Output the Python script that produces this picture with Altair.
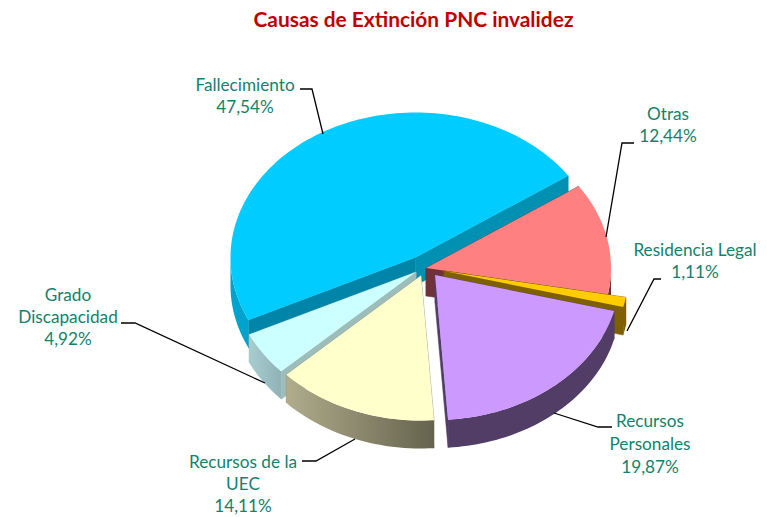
import math
import altair as alt

# --- chart values
categories = ["Fallecimiento", "Otras", "Residencia Legal", "Recursos Personales", "Recursos de la UEC", "Grado Discapacidad"]
shares = [47.54, 12.44, 1.11, 19.87, 14.11, 4.92]
share_labels = ["47,54%", "12,44%", "1,11%", "19,87%", "14,11%", "4,92%"]

# --- styling of each slice
top_colors = ["#00CCFF", "#FF8080", "#FFCC00", "#CC99FF", "#FFFFCC", "#CCFFFF"]
side_colors = ["#00A3CC", "#6E3238", "#7F6000", "#523D66", "#8A8870", "#9FC4C6"]
cut_colors = ["#0085A8", "#6E3238", "#7F6000", "#523D66", "#8A8870", "#9CBDB9"]
apexes = [(415.5, 257.5), (426, 268), (444, 271), (435, 275), (421, 275.5), (416, 272)]

RX, RY, DEPTH = 185, 145, 28
START = 205.5  # parametric angle where the first slice begins, running clockwise
PAD_TOP = 36
OX, OY = 8, 8 + PAD_TOP


def P(x, y):
    return [x - OX, y - OY]


def feature(points, geom="Polygon"):
    pts = [P(*p) for p in points]
    if geom == "Polygon":
        pts = pts + [pts[0]]
        coords = [pts]
    else:
        coords = pts
    return {"type": "Feature", "properties": {}, "geometry": {"type": geom, "coordinates": coords}}


PROJ = dict(type="identity", scale=1, translate=[0, 0])


def shape(points, geom="Polygon", **mark):
    return alt.Chart(alt.Data(values=[feature(points, geom)])).mark_geoshape(**mark).project(**PROJ)


def arc(apex, a0, a1):
    n = max(2, int(abs(a0 - a1) / 1.5))
    out = []
    for i in range(n + 1):
        a = math.radians(a0 + (a1 - a0) * i / n)
        out.append((apex[0] + RX * math.cos(a), apex[1] - RY * math.sin(a)))
    return out


def hgrad(c0, c1):
    return alt.Gradient(gradient="linear", x1=0, x2=1, y1=0, y2=0,
                        stops=[alt.GradientStop(color=c0, offset=0), alt.GradientStop(color=c1, offset=1)])


# start / end angles of every slice, from the shares
spans = []
ang = START
for s in shares:
    spans.append((ang, ang - s * 3.6))
    ang -= s * 3.6

side_fill = {4: hgrad("#B0AC8C", "#65634D"), 5: hgrad("#A8CDCF", "#8FB2B6")}
cut2_colors = {0: "#0090B2"}


def slice_layers(i):
    apex = apexes[i]
    a0, a1 = spans[i]
    layers = []
    # the two cut faces, shifted down by the depth
    for a, col in ((a0, cut_colors[i]), (a1, cut2_colors.get(i, cut_colors[i]))):
        e = arc(apex, a, a)[0]
        layers.append(shape([apex, e, (e[0], e[1] + DEPTH), (apex[0], apex[1] + DEPTH)],
                            fill=col, stroke=col, strokeWidth=0.5))
    # outer wall: only the front half of the ellipse shows
    for shift in (0, -360):
        top, bot = min(a0 + shift, 0), max(a1 + shift, -180)
        if top > bot:
            edge = arc(apex, top, bot)
            wall = edge + [(x, y + DEPTH) for x, y in reversed(edge)]
            layers.append(shape(wall, fill=side_fill.get(i, side_colors[i])))
    # top face
    layers.append(shape([apex] + arc(apex, a0, a1), fill=top_colors[i]))
    return layers


draw_order = [0, 5, 4, 1, 2, 3]
pie = [l for i in draw_order for l in slice_layers(i)]

# --- leader lines
leaders = [
    [(300, 89), (312, 89), (323, 134)],
    [(634, 143), (622, 143), (606, 237)],
    [(661, 279), (654, 279), (627, 331)],
    [(612, 427), (598, 427), (554, 413)],
    [(302, 461), (316, 461), (355, 439)],
    [(121, 323), (135, 323), (265, 383)],
]
lines = [shape(l, "LineString", filled=False, stroke="black", strokeWidth=1.3) for l in leaders]

# --- labels
label_rows = [
    ("Fallecimiento", 245, 86), (share_labels[0], 245, 108),
    ("Otras", 668, 115), (share_labels[1], 668, 137),
    ("Residencia Legal", 695, 251), (share_labels[2], 695, 273),
    ("Recursos", 650, 422), ("Personales", 650, 445), (share_labels[3], 650, 468),
    ("Recursos de la", 243, 463), ("UEC", 243, 485), (share_labels[4], 243, 507),
    ("Grado", 68, 296), ("Discapacidad", 68, 318), (share_labels[5], 68, 340),
]
label_data = [{"t": t, "x": x - OX, "y": y - OY} for t, x, y in label_rows]
labels = alt.Chart(alt.Data(values=label_data)).mark_text(
    font="Lato", fontSize=17.2, color="#12826A", align="center", baseline="middle"
).encode(
    x=alt.X("x:Q", scale=None, axis=None),
    y=alt.Y("y:Q", scale=None, axis=None),
    text="t:N",
)

chart = alt.layer(*pie, *lines, labels).properties(
    width=751,
    height=508 - PAD_TOP,
    padding={"left": 0, "top": PAD_TOP, "right": 0, "bottom": 0},
    autosize=alt.AutoSizeParams(type="none"),
    background="white",
    title=alt.TitleParams(
        "Causas de Extinción PNC invalidez",
        font="Lato", fontSize=20.9, fontWeight="bold", color="#C00000",
        anchor="middle", dx=30, offset=13,
    ),
).configure_view(stroke=None)

chart.save("out.html", embed_options={"renderer": "svg", "actions": False})
